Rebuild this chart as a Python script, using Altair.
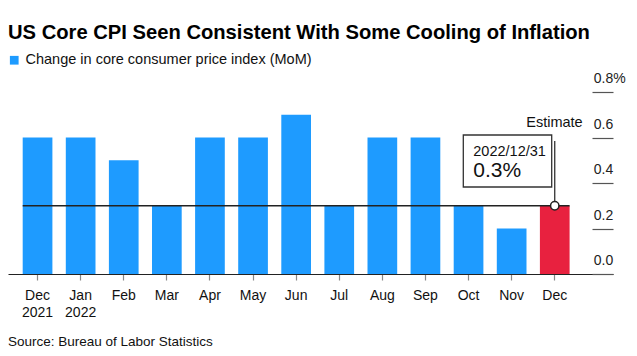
import altair as alt
import pandas as pd

# ---- data ----
categories = ["Dec|2021", "Jan|2022", "Feb", "Mar", "Apr", "May", "Jun",
              "Jul", "Aug", "Sep", "Oct", "Nov", "Dec"]
values = [0.6, 0.6, 0.5, 0.3, 0.6, 0.6, 0.7, 0.3, 0.6, 0.6, 0.3, 0.2, 0.3]
SERIES = "Change in core consumer price index (MoM)"
ESTIMATE = "Estimate"
series = [SERIES] * 12 + [ESTIMATE]
y_ticks = [0.0, 0.2, 0.4, 0.6, 0.8]
estimate_value = 0.3
estimate_date = "2022/12/31"
estimate_text = "0.3%"
title_text = "US Core CPI Seen Consistent With Some Cooling of Inflation"
source_text = "Source: Bureau of Labor Statistics"

df = pd.DataFrame({"period": categories, "value": values, "series": series})
one = pd.DataFrame({"k": [0]})

FONT = "Liberation Sans"
BLUE = "#1E9BFF"
RED = "#E8213F"
DARK = "#222222"

x_scale = alt.Scale(domain=categories, paddingInner=0.311, paddingOuter=0.674, align=0.253)
y_scale = alt.Scale(domain=[0, 0.8], nice=False, zero=True)

x_axis = alt.Axis(title=None, labelAngle=0, labelExpr="split(datum.label, '|')",
                  labelFont=FONT, labelFontSize=14, labelColor="#111",
                  labelPadding=8, labelLineHeight=17, tickSize=6,
                  tickColor="#888", tickWidth=1.2, domainColor=DARK,
                  domainWidth=1.2, grid=False)
y_axis = alt.Axis(title=None, orient="right", offset=-21, values=y_ticks,
                  tickSize=21, tickColor="#555", tickWidth=1.2,
                  labelPadding=-19.7, labelAlign="left",
                  labelBaseline="alphabetic", labelOffset=-9.5,
                  labelExpr="datum.value >= 0.8 ? '0.8%' : format(datum.value, '.1f')",
                  labelFont=FONT, labelFontSize=14, labelColor=DARK,
                  domain=False, grid=False)

bars = alt.Chart(df).mark_bar().encode(
    x=alt.X("period:N", sort=categories, scale=x_scale, axis=x_axis),
    y=alt.Y("value:Q", scale=y_scale, axis=y_axis),
    color=alt.Color("series:N",
                    scale=alt.Scale(domain=[SERIES, ESTIMATE], range=[BLUE, RED]),
                    legend=alt.Legend(values=[SERIES], title=None, orient="none",
                                      legendX=-1, legendY=-39, symbolType="square",
                                      symbolSize=76, symbolStrokeWidth=0,
                                      labelFontSize=14.5, labelFont=FONT, labelLimit=500,
                                      labelColor="#111", labelOffset=4)),
)

hline = alt.Chart(one).mark_rule(color=DARK, strokeWidth=1.5,
                                 xOffset=-14.85, x2Offset=14.85).encode(
    x=alt.X(datum=categories[0], type="nominal", scale=x_scale, axis=x_axis),
    x2=alt.X2(datum=categories[-1]),
    y=alt.Y(datum=estimate_value, type="quantitative", scale=y_scale, axis=y_axis),
)

vline = alt.Chart(one).mark_rule(color=DARK, strokeWidth=1.2).encode(
    x=alt.X(datum=categories[-1], type="nominal", scale=x_scale, axis=x_axis),
    y=alt.Y(datum=estimate_value, type="quantitative", scale=y_scale, axis=y_axis),
    y2=alt.value(49),
)

dot = alt.Chart(one).mark_point(shape="circle", filled=True, fill="white",
                                stroke=DARK, strokeWidth=1.5, size=70, opacity=1).encode(
    x=alt.X(datum=categories[-1], type="nominal", scale=x_scale, axis=x_axis),
    y=alt.Y(datum=estimate_value, type="quantitative", scale=y_scale, axis=y_axis),
)

box = alt.Chart(one).mark_rect(fill="white", stroke="#333", strokeWidth=1.3).encode(
    x=alt.value(455.3), x2=alt.value(543.7), y=alt.value(43), y2=alt.value(95),
)

date_txt = alt.Chart(one).mark_text(align="left", baseline="alphabetic", font=FONT,
                                    fontSize=14.5, color="#111").encode(
    x=alt.value(465.3), y=alt.value(64), text=alt.value(estimate_date))

val_txt = alt.Chart(one).mark_text(align="left", baseline="alphabetic", font=FONT,
                                   fontSize=21, color="#111").encode(
    x=alt.value(465.3), y=alt.value(84.7), text=alt.value(estimate_text))

est_txt = alt.Chart(one).mark_text(align="right", baseline="alphabetic", font=FONT,
                                   fontSize=14.5, color="#111").encode(
    x=alt.value(574.7), y=alt.value(35.3), text=alt.value(ESTIMATE))

title_mark = alt.Chart(one).mark_text(align="left", baseline="alphabetic", font=FONT,
                                      fontSize=20.2, fontWeight="bold", color="#000").encode(
    x=alt.value(0), y=alt.value(-53), text=alt.value(title_text))

source_mark = alt.Chart(one).mark_text(align="left", baseline="alphabetic", font=FONT,
                                       fontSize=13.5, color="#111").encode(
    x=alt.value(0), y=alt.value(254), text=alt.value(source_text))

chart = alt.layer(bars, hline, vline, dot, box, date_txt, val_txt, est_txt,
                  title_mark, source_mark).properties(
    width=605, height=182, autosize="none",
    padding={"left": 0, "top": 84, "right": 16, "bottom": 76},
).configure_view(stroke=None)

chart.save("out.html", embed_options={"renderer": "svg", "actions": False})
